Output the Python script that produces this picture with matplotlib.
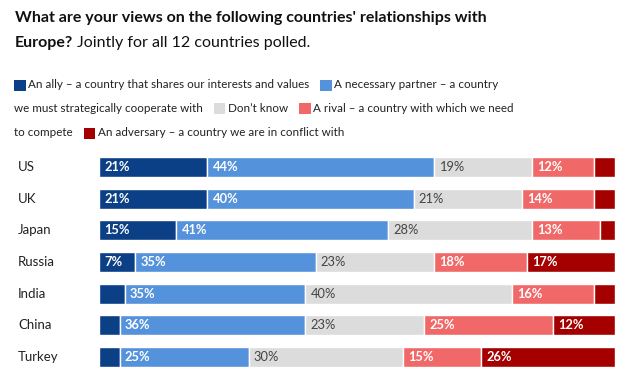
import matplotlib
matplotlib.use("Agg")
import matplotlib.pyplot as plt
from matplotlib.patches import Rectangle

countries = ["US", "UK", "Japan", "Russia", "India", "China", "Turkey"]
ally = [21, 21, 15, 7, 5, 4, 4]
partner = [44, 40, 41, 35, 35, 36, 25]
dont_know = [19, 21, 28, 23, 40, 23, 30]
rival = [12, 14, 13, 18, 16, 25, 15]
adversary = [4, 4, 3, 17, 4, 12, 26]

colors = ["#0B3F86", "#5592DC", "#DCDCDC", "#F06868", "#A50000"]
label_colors = ["white", "white", "#444444", "white", "white"]
label_weights = ["bold", "bold", "normal", "bold", "bold"]

FONT = "Lato"
W, H = 634, 387
fig = plt.figure(figsize=(W / 100, H / 100), dpi=100)
fig.canvas.draw()
r = fig.canvas.get_renderer()

def fx(px):
    return px / W

def fy(py):
    return 1 - py / H

def width_px(t):
    bb = t.get_window_extent(r)
    return bb.x1 - bb.x0

# Title
TS = 11.5
fig.text(fx(15), fy(18), "What are your views on the following countries' relationships with",
         fontsize=TS, fontweight="bold", family=FONT, va="center", ha="left", color="#111111")
t = fig.text(fx(15), fy(43), "Europe?", fontsize=TS, fontweight="bold", family=FONT,
             va="center", ha="left", color="#111111")
fig.text(fx(15 + width_px(t) + 4), fy(43), "Jointly for all 12 countries polled.", fontsize=TS,
         family=FONT, va="center", ha="left", color="#111111")

# Legend (manual wrapped layout, flowing pieces)
LS = 8.4
legend_lines = [
    (85, [(0, "An ally \u2013 a country that shares our interests and values"),
          (1, "A necessary partner \u2013 a country")]),
    (108, [(None, "we must strategically cooperate with"),
           (2, "Don\u2019t know"),
           (3, "A rival \u2013 a country with which we need")]),
    (133, [(None, "to compete"),
           (4, "An adversary \u2013 a country we are in conflict with")]),
]
for ly, pieces in legend_lines:
    x = 14
    for k, (ci, txt) in enumerate(pieces):
        if ci is not None:
            if k > 0:
                x += 11
            fig.patches.append(Rectangle((fx(x), fy(ly + 6)), fx(11.5), 11.5 / H,
                                         transform=fig.transFigure, facecolor=colors[ci],
                                         edgecolor="none"))
            x += 14
        tt = fig.text(fx(x), fy(ly), txt, fontsize=LS, family=FONT, va="center",
                      ha="left", color="#222222")
        x += width_px(tt)

# Bars
ax = fig.add_axes([fx(99), 1 - 373 / H, 516 / W, 222 / H])
series = [ally, partner, dont_know, rival, adversary]
ypos = list(range(len(countries)))
left = [0] * len(countries)
for si, vals in enumerate(series):
    ax.barh(ypos, vals, left=left, height=0.63, color=colors[si],
            edgecolor="white", linewidth=1.0)
    for i, v in enumerate(vals):
        if v >= 7:
            ax.text(left[i] + 1.0, ypos[i], f"{v}%", va="center", ha="left",
                    fontsize=9.3, fontweight=label_weights[si], family=FONT,
                    color=label_colors[si])
    left = [l + v for l, v in zip(left, vals)]

ax.set_xlim(0, 100)
ax.set_ylim(len(countries) - 0.5, -0.5)
ax.axis("off")

for i, c in enumerate(countries):
    ax.text(-81 / 5.16, ypos[i], c, va="center", ha="left", fontsize=9.5,
            family=FONT, color="#222222")

fig.savefig("out.png", dpi=100)
